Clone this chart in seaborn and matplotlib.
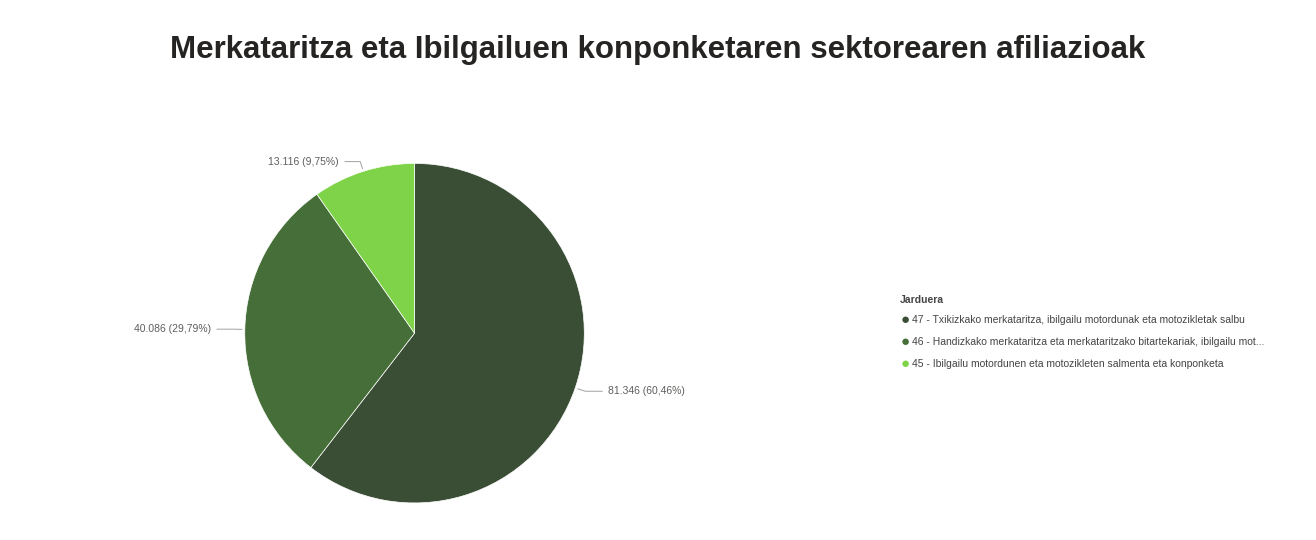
import numpy as np
import matplotlib.pyplot as plt
import seaborn as sns

sns.set_style("white")
plt.rcParams['font.family'] = ['Liberation Sans', 'DejaVu Sans']

categories = ["47 - Txikizkako merkataritza, ibilgailu motordunak eta motozikletak salbu",
              "46 - Handizkako merkataritza eta merkataritzako bitartekariak, ibilgailu mot...",
              "45 - Ibilgailu motordunen eta motozikleten salmenta eta konponketa"]
values = [81346, 40086, 13116]
value_labels = ["81.346 (60,46%)", "40.086 (29,79%)", "13.116 (9,75%)"]
colors = ["#3A4D35", "#466E38", "#7ED348"]

fig = plt.figure(figsize=(13.16, 5.4), dpi=100)
fig.suptitle("Merkataritza eta Ibilgailuen konponketaren sektorearen afiliazioak",
             fontsize=22.5, fontweight='bold', color='#252423', y=0.935)

ax = fig.add_axes([0.186, 0.068, 0.258, 0.63])
wedges, _ = ax.pie(values, colors=colors, startangle=90, counterclock=False,
                   wedgeprops=dict(edgecolor='white', linewidth=0.5))
ax.set_xlim(-1, 1)
ax.set_ylim(-1, 1)
ax.set_aspect('equal')

# outside labels with leader lines
for w, lab in zip(wedges, value_labels):
    ang = np.deg2rad((w.theta1 + w.theta2) / 2)
    x, y = np.cos(ang), np.sin(ang)
    side = 1 if x >= 0 else -1
    ax.annotate(lab, xy=(1.0 * x, 1.0 * y), xytext=(1.08 * x + side * 0.12, 1.06 * y),
                ha='left' if side > 0 else 'right', va='center', fontsize=7.5, color='#605E5C',
                annotation_clip=False,
                arrowprops=dict(arrowstyle='-', color='#A0A0A0', lw=0.7,
                                connectionstyle='angle,angleA=0,angleB=%d' % np.rad2deg(ang)))

# legend
fig.text(900 / 1316, 1 - 300 / 540, "Jarduera", fontsize=7.5, fontweight='bold',
         color='#444444', va='center')
for i, (cat, c) in enumerate(zip(categories, colors)):
    yy = 1 - (320 + i * 22) / 540
    fig.text(905 / 1316, yy, "\u25cf", fontsize=11, color=c, va='center', ha='center')
    fig.text(912 / 1316, yy, cat, fontsize=7.5, color='#444444', va='center')

fig.savefig("out.png", dpi=100)
